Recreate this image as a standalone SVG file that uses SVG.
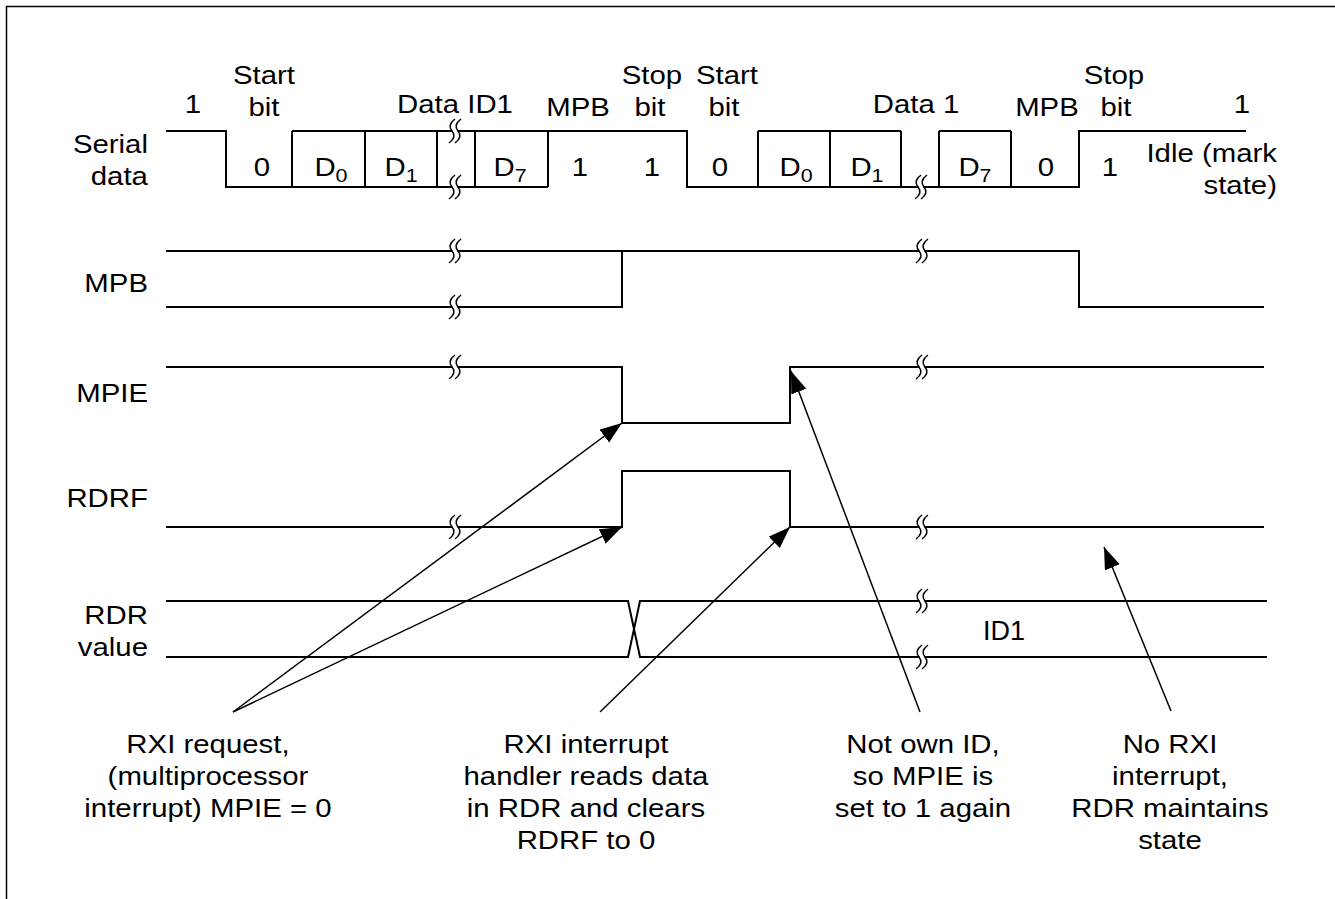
<svg xmlns="http://www.w3.org/2000/svg" width="1335" height="899" viewBox="0 0 1335 899">
<style>
text{font-family:"Liberation Sans",Arial,sans-serif;font-size:26px;fill:#000;transform-box:fill-box;transform:scaleX(1.13)}
.m{text-anchor:middle;transform-origin:50% 50%}
.e{text-anchor:end;transform-origin:100% 50%}
.id{font-size:27px;transform:none}
.sig{fill:none;stroke:#000;stroke-width:2}
.con{fill:none;stroke:#000;stroke-width:1.5}
.frame{fill:none;stroke:#000;stroke-width:1.5}
.sub{font-size:19px}
</style>
<defs>
<marker id="ah" markerUnits="userSpaceOnUse" markerWidth="24" markerHeight="18" refX="22" refY="8" orient="auto">
<path d="M0,0 L22,8 L0,16 z" fill="#000"/>
</marker>
<g id="brk">
<rect x="-2.5" y="-3" width="5" height="6" fill="#fff"/>
<path d="M0,-12 Q-8,-6 -3,0 T-6,12 M6,-12 Q-2,-6 3,0 T0,12" fill="none" stroke="#000" stroke-width="1.5"/>
</g>
</defs>
<rect width="1335" height="899" fill="#fff"/>
<path class="frame" d="M6.5,899 V6.5 H1335"/>

<g id="serial">
<path class="sig" d="M166,131 H226 V187 H548 M292,131 H687 V187 H1079 V131 H1246 M758,131 H901 M939,131 H1011 M292,131 V187 M365,131 V187 M437,131 V187 M475,131 V187 M548,131 V187 M758,131 V187 M830,131 V187 M901,131 V187 M939,131 V187 M1011,131 V187"/>
<use href="#brk" x="455" y="131"/>
<use href="#brk" x="455" y="187"/>
<use href="#brk" x="921" y="187"/>
<text class="e" x="148" y="153">Serial</text>
<text class="e" x="148" y="185">data</text>
<text class="m" x="193" y="113">1</text>
<text class="m" x="264" y="84">Start</text>
<text class="m" x="264" y="116">bit</text>
<text class="m" x="455" y="113">Data ID1</text>
<text class="m" x="578" y="116">MPB</text>
<text class="m" x="652" y="84">Stop</text>
<text class="m" x="650" y="116">bit</text>
<text class="m" x="727" y="84">Start</text>
<text class="m" x="724" y="116">bit</text>
<text class="m" x="916" y="113">Data 1</text>
<text class="m" x="1047" y="116">MPB</text>
<text class="m" x="1114" y="84">Stop</text>
<text class="m" x="1116" y="116">bit</text>
<text class="m" x="1242" y="113">1</text>
<text class="e" x="1277" y="162">Idle (mark</text>
<text class="e" x="1277" y="194">state)</text>
<text class="m" x="262" y="176">0</text>
<text class="m" x="331" y="176">D<tspan class="sub" dy="6">0</tspan></text>
<text class="m" x="401" y="176">D<tspan class="sub" dy="6">1</tspan></text>
<text class="m" x="510" y="176">D<tspan class="sub" dy="6">7</tspan></text>
<text class="m" x="580" y="176">1</text>
<text class="m" x="652" y="176">1</text>
<text class="m" x="720" y="176">0</text>
<text class="m" x="796" y="176">D<tspan class="sub" dy="6">0</tspan></text>
<text class="m" x="867" y="176">D<tspan class="sub" dy="6">1</tspan></text>
<text class="m" x="975" y="176">D<tspan class="sub" dy="6">7</tspan></text>
<text class="m" x="1046" y="176">0</text>
<text class="m" x="1110" y="176">1</text>
</g>

<g id="mpb">
<path class="sig" d="M166,251 H1079 V307 H1264 M166,307 H622 V251"/>
<use href="#brk" x="455" y="251"/>
<use href="#brk" x="455" y="307"/>
<use href="#brk" x="922" y="251"/>
<text class="e" x="148" y="292">MPB</text>
</g>

<g id="mpie">
<path class="sig" d="M166,367 H622 V423 H790 V367 H1264"/>
<use href="#brk" x="455" y="367"/>
<use href="#brk" x="922" y="367"/>
<text class="e" x="148" y="402">MPIE</text>
</g>

<g id="rdrf">
<path class="sig" d="M166,527 H622 V471 H790 V527 H1264"/>
<use href="#brk" x="455" y="527"/>
<use href="#brk" x="922" y="527"/>
<text class="e" x="148" y="507">RDRF</text>
</g>

<g id="rdr">
<path class="sig" d="M166,601 H628 L640,657 H1267 M166,657 H628 L640,601 H1267"/>
<use href="#brk" x="922" y="601"/>
<use href="#brk" x="922" y="657"/>
<text class="e" x="148" y="624">RDR</text>
<text class="e" x="148" y="656">value</text>
<text class="m id" x="1004" y="640">ID1</text>
</g>

<g id="connectors">
<path class="con" d="M233,712 L622,423" marker-end="url(#ah)"/>
<path class="con" d="M233,712 L622,527" marker-end="url(#ah)"/>
<path class="con" d="M600,712 L790,527" marker-end="url(#ah)"/>
<path class="con" d="M920,712 L791,371" marker-end="url(#ah)"/>
<path class="con" d="M1171,711 L1104,547" marker-end="url(#ah)"/>
</g>

<g id="note-rxi-request">
<text class="m" x="208" y="753">RXI request,</text>
<text class="m" x="208" y="785">(multiprocessor</text>
<text class="m" x="208" y="817">interrupt) MPIE = 0</text>
</g>
<g id="note-rxi-handler">
<text class="m" x="586" y="753">RXI interrupt</text>
<text class="m" x="586" y="785">handler reads data</text>
<text class="m" x="586" y="817">in RDR and clears</text>
<text class="m" x="586" y="849">RDRF to 0</text>
</g>
<g id="note-not-own">
<text class="m" x="923" y="753">Not own ID,</text>
<text class="m" x="923" y="785">so MPIE is</text>
<text class="m" x="923" y="817">set to 1 again</text>
</g>
<g id="note-no-rxi">
<text class="m" x="1170" y="753">No RXI</text>
<text class="m" x="1170" y="785">interrupt,</text>
<text class="m" x="1170" y="817">RDR maintains</text>
<text class="m" x="1170" y="849">state</text>
</g>
</svg>
